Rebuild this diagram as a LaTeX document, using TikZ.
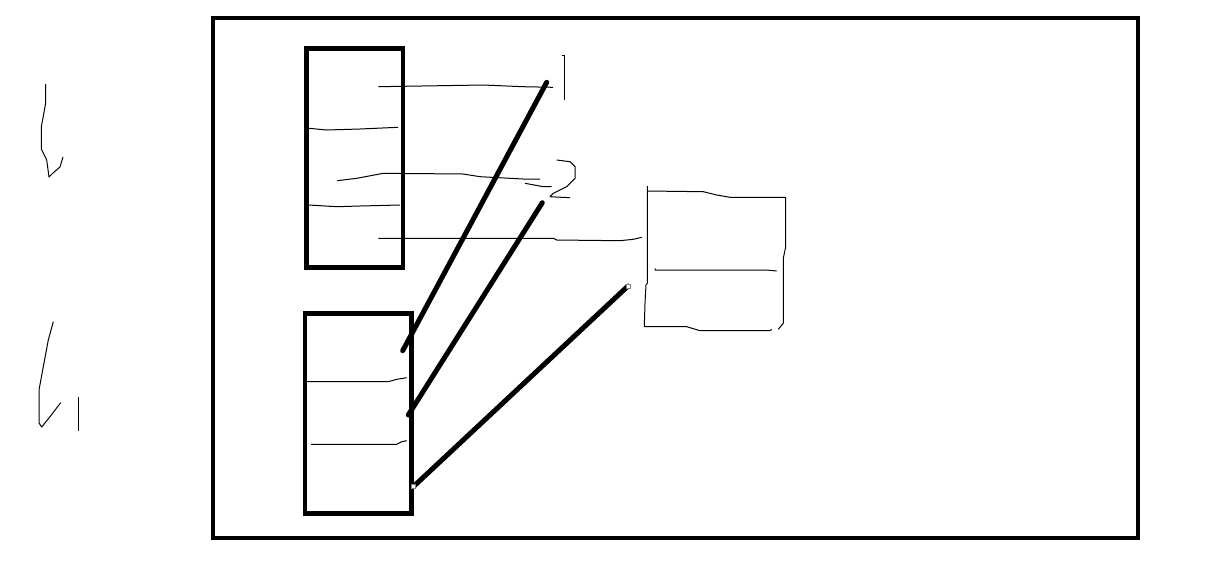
\documentclass[tikz,border=0pt]{standalone}
\begin{document}
\begin{tikzpicture}[x=1pt,y=-1pt,
  frame/.style={draw=black,line width=4.5pt},
  thin/.style={draw=black,line width=1pt,line join=round},
  thickline/.style={draw=black,line width=5pt,line cap=round},
  endmark/.style={draw=gray,fill=white,line width=0.8pt,minimum size=4pt,inner sep=0pt,rectangle}]
\useasboundingbox[fill=white] (0,0) rectangle (1207,574);
% outer frame
\draw[frame] (213,18) rectangle (1138,538);
% top box
\draw[frame] (306.5,48.5) rectangle (403,267.5);
% bottom box
\draw[frame] (305,313.5) rectangle (411.5,513.5);
% thin lines in top box
\draw[thin] (378.3,86.7) -- (483.3,85) -- (523,86.7) -- (553,87.3);
\draw[thin] (309,128.3) -- (326.7,130) -- (360,129) -- (398,127.3);
\draw[thin] (337.3,180.7) -- (356.7,178.3) -- (383.3,173.3) -- (463.3,174) -- (480,176.7) -- (523.3,179) -- (540,179);
\draw[thin] (525,183.3) -- (543.3,186.7) -- (551.7,186.7);
\draw[thin] (309,205) -- (336.7,206.7) -- (360,206) -- (400,205);
\draw[thin] (378.3,238.3) -- (553.3,238.3) -- (556.7,240) -- (620,240.7) -- (633.3,239.3) -- (641.7,237.3);
% label 1
\draw[thin] (562.3,55) -- (564.3,55) -- (564.3,100);
% label 2
\draw[thin] (556.7,160) -- (570,161.7) -- (575,166.7) -- (575,178.3) -- (566.7,186.7) -- (553.3,193.3) -- (550,196.7) -- (570,197.7);
% thin lines in bottom box
\draw[thin] (306.7,381.7) -- (388.3,381.7) -- (396.7,379.3) -- (406.7,377.7);
\draw[thin] (311,444.3) -- (396.7,444.3) -- (401.7,441.7) -- (406.7,440.7);
% right box (hand drawn)
\draw[thin] (647.3,186) -- (647.3,283.3) -- (646,285) -- (645,303) -- (644.3,326.7)
  -- (686.7,326.7) -- (700,330.7) -- (770,330.7) -- (771.7,329.3);
\draw[thin] (647.3,191) -- (703.3,191.7) -- (716.7,195) -- (730,197.3) -- (785.7,197.3)
  -- (785.7,246.7) -- (783.3,258.3) -- (783.3,323.3) -- (778.3,329.3);
\draw[thin] (655,268.3) -- (655,270) -- (766.7,270) -- (776.7,271);
% left hand-drawn marks
\draw[thin] (45.7,84) -- (45.7,103) -- (41.3,127) -- (41.3,149) -- (46.7,160) -- (49,177) -- (53,173) -- (60,167) -- (63,157);
\draw[thin] (53.3,321.7) -- (48.3,340) -- (43.3,366.7) -- (39,390) -- (39,423) -- (41.7,427) -- (50,416.7) -- (60.7,402.7);
\draw[thin] (78.3,397) -- (78.3,430.7);
% thick connectors
\coordinate (a1) at (546.7,82.3);
\coordinate (b1) at (402.7,350.7);
\coordinate (a2) at (542.3,202.7);
\coordinate (b2) at (408.3,415);
\coordinate (a3) at (628,286);
\coordinate (b3) at (413.3,486.7);
\draw[thickline] (a1) -- (b1);
\draw[thickline] (a2) -- (b2);
\draw[thickline] (a3) -- (b3);
\node[endmark] (m1) at (a3) {};
\node[endmark] (m2) at (b3) {};
\end{tikzpicture}
\end{document}
